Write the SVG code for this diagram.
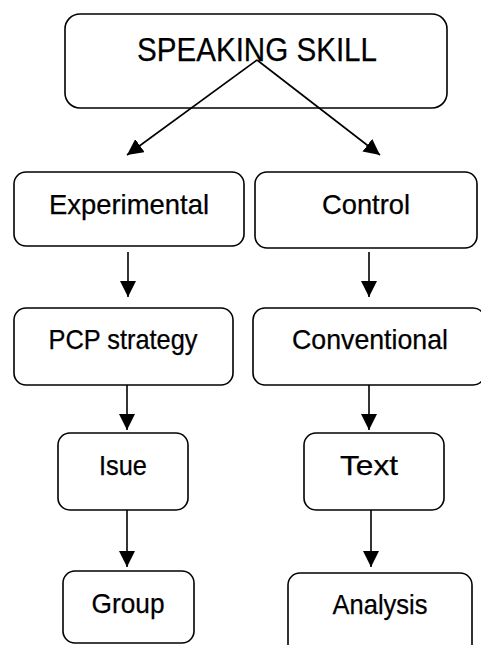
<svg xmlns="http://www.w3.org/2000/svg" width="481" height="645" viewBox="0 0 481 645">
<defs>
<style>
.box{fill:#fff;stroke:#000;stroke-width:1.6}
.lbl{font-family:"Liberation Sans",Arial,sans-serif;font-size:28px;fill:#000;stroke:#000;stroke-width:0.25;text-anchor:middle}
.big{font-size:33px}
.con{stroke:#000;stroke-width:1.6;fill:none;marker-end:url(#ah)}
</style>
<marker id="ah" markerUnits="userSpaceOnUse" markerWidth="16" markerHeight="16" viewBox="0 0 16 16" refX="16" refY="8" orient="auto">
<path d="M0,0 L16,8 L0,16 Z" fill="#000"/>
</marker>
</defs>
<rect width="481" height="645" fill="#fff"/>
<g id="n-speaking"><rect class="box" x="65" y="14" width="382" height="94" rx="15"/><text class="lbl big" x="257" y="61" textLength="240" lengthAdjust="spacingAndGlyphs">SPEAKING SKILL</text></g>
<g id="n-experimental"><rect class="box" x="14" y="172" width="230" height="74" rx="12"/><text class="lbl" x="129" y="214" textLength="160" lengthAdjust="spacingAndGlyphs">Experimental</text></g>
<g id="n-control"><rect class="box" x="255" y="172" width="222" height="76" rx="12"/><text class="lbl" x="366" y="214" textLength="88" lengthAdjust="spacingAndGlyphs">Control</text></g>
<g id="n-pcp"><rect class="box" x="14" y="308" width="219" height="77" rx="12"/><text class="lbl" x="123" y="349" textLength="149" lengthAdjust="spacingAndGlyphs">PCP strategy</text></g>
<g id="n-conventional"><rect class="box" x="253" y="308" width="232" height="77" rx="12"/><text class="lbl" x="370" y="349" textLength="156" lengthAdjust="spacingAndGlyphs">Conventional</text></g>
<g id="n-isue"><rect class="box" x="58" y="433" width="130" height="77" rx="12"/><text class="lbl" x="123" y="475" textLength="48" lengthAdjust="spacingAndGlyphs">Isue</text></g>
<g id="n-text"><rect class="box" x="304" y="433" width="140" height="77" rx="12"/><text class="lbl" x="369" y="475" textLength="58" lengthAdjust="spacingAndGlyphs">Text</text></g>
<g id="n-group"><rect class="box" x="63" y="571" width="131" height="72" rx="12"/><text class="lbl" x="128" y="613" textLength="73" lengthAdjust="spacingAndGlyphs">Group</text></g>
<g id="n-analysis"><rect class="box" x="288" y="573" width="184" height="90" rx="12"/><text class="lbl" x="380" y="614" textLength="95" lengthAdjust="spacingAndGlyphs">Analysis</text></g>
<g id="connectors">
<line class="con" x1="257" y1="60" x2="127" y2="155"/>
<line class="con" x1="257" y1="60" x2="380" y2="155"/>
<line class="con" x1="128" y1="252" x2="128" y2="297"/>
<line class="con" x1="369" y1="252" x2="369" y2="297"/>
<line class="con" x1="127" y1="385" x2="127" y2="430"/>
<line class="con" x1="369" y1="385" x2="369" y2="430"/>
<line class="con" x1="127" y1="510" x2="127" y2="567"/>
<line class="con" x1="371" y1="510" x2="371" y2="567"/>
</g>
</svg>
